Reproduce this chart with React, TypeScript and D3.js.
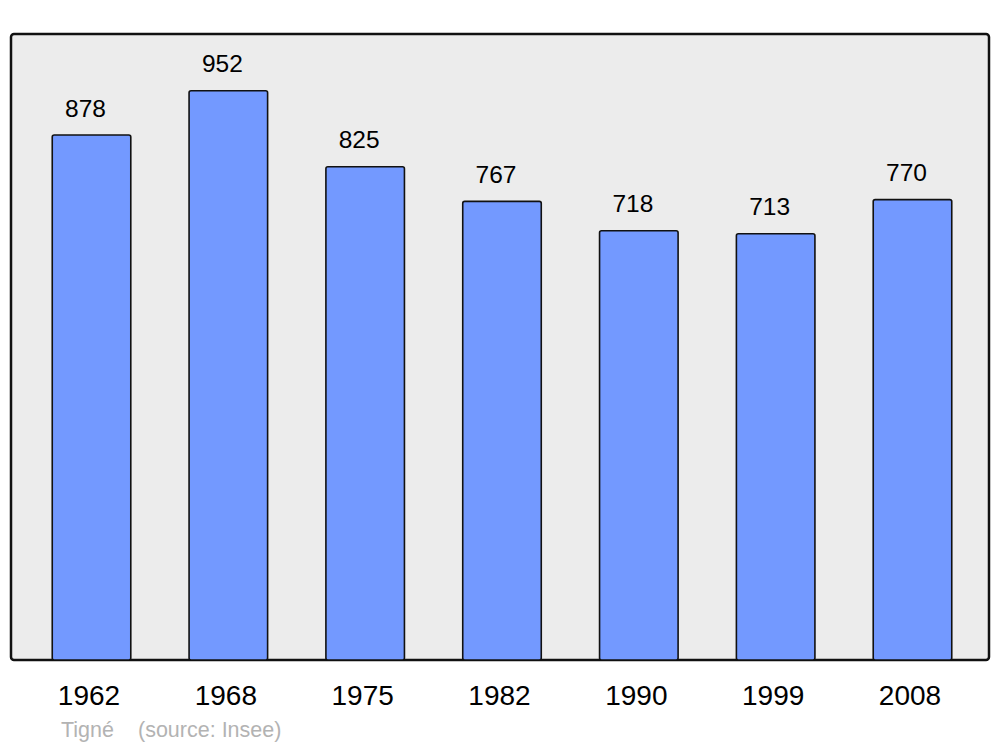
import React from "react";
import * as d3 from "d3";

const years = ["1962", "1968", "1975", "1982", "1990", "1999", "2008"];
const population = [878, 952, 825, 767, 718, 713, 770];
const commune = "Tigné";
const sourceText = "(source: Insee)";

const W = 1000;
const H = 747;
const panel = { x: 11, y: 34, w: 978, h: 626 };

export default function App() {
  const x = d3
    .scaleBand<string>()
    .domain(years)
    .range([23.1, 980.9])
    .paddingInner(0.426)
    .paddingOuter(0.213);
  const y = d3
    .scaleLinear()
    .domain([0, 1047])
    .range([panel.y + panel.h, panel.y]);

  const font = "'Liberation Sans', Arial, sans-serif";

  return (
    <svg
      width={W}
      height={H}
      style={{ position: "absolute", left: 0, top: 0, background: "#fff" }}
    >
      <rect
        x={panel.x}
        y={panel.y}
        width={panel.w}
        height={panel.h}
        rx={3}
        ry={3}
        fill="#ececec"
        stroke="#111"
        strokeWidth={2.5}
      />
      {years.map((yr, i) => {
        const v = population[i];
        const bx = x(yr)!;
        const by = y(v);
        const cx = bx + x.bandwidth() / 2;
        return (
          <g key={yr}>
            <rect
              x={bx}
              y={by}
              width={x.bandwidth()}
              height={y(0) - by}
              rx={2}
              ry={2}
              fill="#7399ff"
              stroke="#111"
              strokeWidth={1.6}
            />
            <text
              x={cx - 6}
              y={by - 18.5}
              textAnchor="middle"
              fontFamily={font}
              fontSize={24.5}
              fill="#000"
            >
              {v}
            </text>
            <text
              x={cx - 2.5}
              y={705}
              textAnchor="middle"
              fontFamily={font}
              fontSize={28}
              fill="#000"
            >
              {yr}
            </text>
          </g>
        );
      })}
      <text x={61} y={737} fontFamily={font} fontSize={21.5} fill="#b3b3b3">
        {commune}
      </text>
      <text x={138} y={737} fontFamily={font} fontSize={21.5} fill="#b3b3b3">
        {sourceText}
      </text>
    </svg>
  );
}
